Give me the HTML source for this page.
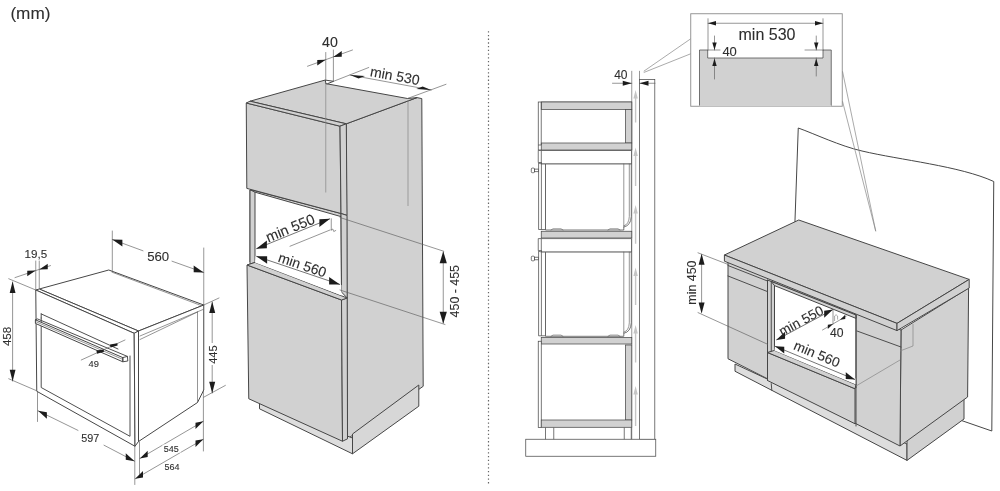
<!DOCTYPE html>
<html><head><meta charset="utf-8"><title>Installation dimensions (mm)</title>
<style>
html,body{margin:0;padding:0;background:#fff;}
body{width:1000px;height:491px;overflow:hidden;font-family:"Liberation Sans",sans-serif;}
svg{display:block;position:absolute;left:0;top:0;filter:grayscale(1);}
.o{fill:none;stroke:#464646;stroke-width:0.95;stroke-linejoin:round;stroke-linecap:round;}
.t{fill:none;stroke:#5c5c5c;stroke-width:0.65;stroke-linecap:round;}
.h{fill:none;stroke:#858585;stroke-width:0.7;}
.g{fill:#d0d1d3;stroke:#464646;stroke-width:1;stroke-linejoin:round;}
.gl{fill:#dcddde;stroke:#464646;stroke-width:1;stroke-linejoin:round;}
.gm{fill:#d6d7d9;stroke:#464646;stroke-width:1;stroke-linejoin:round;}
.gn{fill:#d0d1d3;stroke:none;}
.w{fill:#fff;stroke:#464646;stroke-width:1;stroke-linejoin:round;}
.s{fill:none;stroke:#4a4a4a;stroke-width:0.75;}
.ws{fill:#fff;stroke:#4a4a4a;stroke-width:0.75;}
.gs{fill:#d0d1d3;stroke:#4a4a4a;stroke-width:0.75;}
.d{fill:none;stroke:#3a3a3a;stroke-width:0.7;}
.wn{fill:#fff;stroke:none;}
.a{fill:#1c1c1c;stroke:none;}
.ag{fill:#c4c5c7;stroke:none;}
.tx{font-family:"Liberation Sans",sans-serif;fill:#2e2e2e;stroke:#2e2e2e;stroke-width:0.1px;}
</style></head><body>
<svg width="1000" height="491" viewBox="0 0 1000 491">
<text class="tx" x="10.4" y="18.6" font-size="17.2" text-anchor="start">(mm)</text>
<line x1="488.5" y1="31.15" x2="488.5" y2="483.6" stroke="#666" stroke-width="1.2" stroke-dasharray="1.3 2.427"/>
<path class="w" d="M39.25,289 L108.75,270 L203.75,305 L138.5,331 Z"/>
<line class="t" x1="112" y1="272.2" x2="200.5" y2="305.3"/>
<path class="w" d="M35.75,290 L39.25,289 L138.5,331 L134.2,333.3 Z"/>
<path class="w" d="M35.75,290 L134.2,333.3 L135,446.25 L36.75,391.25 Z"/>
<path class="w" d="M134.2,333.3 L138.5,331 L138.5,441.5 L135,446.25 Z"/>
<path class="w" d="M138.5,331 L203.75,305 L203.75,390 L197.5,402.5 L138.5,441.5 Z"/>
<line class="t" x1="197.5" y1="312" x2="197.5" y2="402.5"/>
<line class="t" x1="140" y1="339.5" x2="197.5" y2="312"/>
<line class="t" x1="140" y1="336" x2="203" y2="309.5"/>
<path class="o" d="M41.2,318 L41.2,387.5 L130,436.3 L130,356"/>
<line class="o" x1="41.2" y1="313.9" x2="118" y2="349"/>
<line class="o" x1="41.2" y1="313.9" x2="41.2" y2="318"/>
<path class="w" d="M35.4,319.8 L122.8,357.6 L122.8,361.8 L35.4,323.4 Z"/>
<line class="t" x1="35.6" y1="321.6" x2="122.8" y2="359.4"/>
<path class="o" d="M35.4,319.8 L37.4,318.9 L127.4,356.4 L127.8,361 L122.8,361.8 L122.8,357.6"/>
<line class="o" x1="122.8" y1="357.6" x2="127.4" y2="356.4"/>
<line class="t" x1="35.75" y1="261" x2="35.75" y2="289"/>
<line class="t" x1="39.25" y1="261" x2="39.25" y2="288"/>
<line class="t" x1="15" y1="277.6" x2="50.5" y2="265.6"/>
<path class="a" d="M35.75,270.60 L27.22,276.18 L27.22,270.78 Z"/>
<path class="a" d="M39.25,269.40 L47.78,269.22 L47.78,263.82 Z"/>
<text class="tx" x="24.6" y="257.8" font-size="11.6" text-anchor="start">19,5</text>
<line class="t" x1="8.75" y1="278.75" x2="35.75" y2="290"/>
<line class="t" x1="8.75" y1="378.75" x2="36" y2="390.5"/>
<line class="t" x1="12.6" y1="282" x2="12.6" y2="381"/>
<path class="a" d="M12.60,281.50 L15.50,293.10 L9.70,293.10 Z"/>
<path class="a" d="M12.60,381.30 L9.70,369.70 L15.50,369.70 Z"/>
<text class="tx" x="11.3" y="336.4" font-size="11.6" text-anchor="middle" transform="rotate(-90 11.3 336.4)">458</text>
<line class="t" x1="112.3" y1="231" x2="112.3" y2="270.5"/>
<line class="t" x1="203.75" y1="248" x2="203.75" y2="305"/>
<line class="t" x1="112.3" y1="239.5" x2="143" y2="250.8"/>
<line class="t" x1="172" y1="261.2" x2="203.75" y2="272.5"/>
<path class="a" d="M112.30,239.50 L122.36,246.43 L122.36,239.83 Z"/>
<path class="a" d="M203.75,272.50 L193.68,272.19 L193.68,265.59 Z"/>
<text class="tx" x="147.2" y="261.2" font-size="13.2" text-anchor="start">560</text>
<line class="t" x1="203.75" y1="305" x2="219" y2="298"/>
<line class="t" x1="203.75" y1="397.2" x2="225.4" y2="385.4"/>
<line class="t" x1="212.2" y1="302" x2="212.2" y2="393"/>
<path class="a" d="M212.20,301.40 L215.20,313.00 L209.20,313.00 Z"/>
<path class="a" d="M212.20,393.30 L209.20,381.70 L215.20,381.70 Z"/>
<rect x="208" y="343" width="10" height="22" fill="#fff"/>
<text class="tx" x="216.8" y="354.6" font-size="11" text-anchor="middle" transform="rotate(-90 216.8 354.6)">445</text>
<line class="t" x1="37.5" y1="391.5" x2="37.5" y2="421.5"/>
<line class="t" x1="134.8" y1="446.5" x2="134.8" y2="484.5"/>
<line class="t" x1="38" y1="410.8" x2="78" y2="430.4"/>
<line class="t" x1="104" y1="445.2" x2="134.6" y2="461.2"/>
<path class="a" d="M38.00,410.80 L46.87,418.73 L46.87,412.13 Z"/>
<path class="a" d="M134.60,461.20 L125.73,459.87 L125.73,453.27 Z"/>
<text class="tx" x="81.2" y="442.3" font-size="10.8" text-anchor="start">597</text>
<line class="t" x1="139.5" y1="441.8" x2="139.5" y2="474.5"/>
<line class="t" x1="203.4" y1="390" x2="203.4" y2="451"/>
<line class="t" x1="139.9" y1="458.4" x2="203.3" y2="421.3"/>
<path class="a" d="M139.90,458.40 L147.67,457.05 L147.67,450.65 Z"/>
<path class="a" d="M203.30,421.30 L195.53,429.05 L195.53,422.65 Z"/>
<line class="t" x1="135.2" y1="478.8" x2="203.3" y2="439.3"/>
<path class="a" d="M135.20,478.80 L142.99,477.48 L142.99,471.08 Z"/>
<path class="a" d="M203.30,439.30 L195.51,447.02 L195.51,440.62 Z"/>
<rect x="162.5" y="444.5" width="18.5" height="8" fill="#fff"/>
<text class="tx" x="163.8" y="452" font-size="9" text-anchor="start">545</text>
<text class="tx" x="164.4" y="469.6" font-size="9" text-anchor="start">564</text>
<line class="t" x1="81.25" y1="360" x2="125" y2="340"/>
<path class="a" d="M96.4,350.6 L103.6,349.4 L104,351.8 L97,353.8 Z"/>
<path class="a" d="M110,344.4 L117.4,343.2 L117.6,345.6 L110.6,347.4 Z"/>
<text class="tx" x="88.6" y="367" font-size="9.3" text-anchor="start">49</text>
<path class="g" d="M346.3,123.8 L417,97.6 L421.8,98.6 L423.2,386.3 L347.5,438.8 Z"/>
<path class="g" d="M250,101.2 L325.3,80 L325.7,83.6 L407.5,98.5 L417,97.6 L346.3,123.8 Z"/>
<path class="w" d="M325.4,80.1 L333.6,81.3 L327.2,83.8 L325.7,83.6 Z"/>
<path class="gl" d="M259.5,403 L259.5,408.8 L352.5,453.8 L352.5,438 Z"/>
<path class="gm" d="M352.5,434 L352.5,453.8 L418.8,406.2 L418.8,385 Z"/>
<path class="w" d="M250,190 L341,213.5 L341.5,292 L250,262 Z"/>
<path class="g" d="M250,190 L255,191.3 L255,262.5 L250,264 Z"/>
<path class="g" d="M250,189.5 L341,213.5 L341,216.6 L255,192.2 Z"/>
<path class="g" d="M246.25,103 L340,126.2 L341,213.5 L246.8,188.4 Z"/>
<path class="g" d="M246.25,103 L250,101.2 L346.3,123.8 L340,126.2 Z"/>
<path class="g" d="M340,126.2 L346.3,123.8 L347,215.4 L341,213.5 Z"/>
<path class="g" d="M341,213.5 L347,215.4 L347.2,298 L341.5,292 Z"/>
<path class="g" d="M247,265 L341.5,300 L342.5,441.25 L248.75,398.75 Z"/>
<path class="g" d="M341.5,300 L347.2,298 L347.5,438.8 L342.5,441.25 Z"/>
<path class="g" d="M247,265 L255,262.4 L347.2,298 L341.5,300 Z"/>
<path class="wn" d="M255,262.4 L255.6,256 L341.4,285 L341.5,295.4 Z"/>
<line class="h" x1="325.75" y1="82" x2="325.75" y2="192.5"/>
<line class="h" x1="408" y1="100" x2="408" y2="206"/>
<line class="t" x1="325.75" y1="52.5" x2="325.75" y2="80"/>
<line class="t" x1="333.4" y1="50" x2="333.4" y2="81"/>
<line class="t" x1="307.5" y1="66.25" x2="352.5" y2="50"/>
<path class="a" d="M325.75,59.70 L317.28,65.54 L317.28,59.94 Z"/>
<path class="a" d="M333.25,56.90 L341.72,56.66 L341.72,51.06 Z"/>
<text class="tx" x="322" y="47" font-size="14.2" text-anchor="start">40</text>
<line class="t" x1="333.6" y1="81.3" x2="368.75" y2="67.5"/>
<line class="t" x1="407.5" y1="98.5" x2="446" y2="84.3"/>
<line class="t" x1="350" y1="75" x2="431.25" y2="90"/>
<path class="a" d="M350.00,75.00 L364.98,75.97 L358.62,78.39 Z"/>
<path class="a" d="M431.25,90.00 L422.63,86.61 L416.27,89.03 Z"/>
<text class="tx" x="369.6" y="76" font-size="14" text-anchor="start" transform="rotate(10.5 369.6 76)">min 530</text>
<line class="d" x1="256.25" y1="248.75" x2="330" y2="218.75"/>
<path class="a" d="M256.25,248.75 L266.90,248.22 L266.90,240.62 Z"/>
<path class="a" d="M330.00,218.75 L319.35,226.88 L319.35,219.28 Z"/>
<text class="tx" x="268.2" y="242.4" font-size="14.5" text-anchor="start" transform="rotate(-22.1 268.2 242.4)">min 550</text>
<line class="t" x1="290" y1="246.25" x2="330" y2="230"/>
<line class="t" x1="331.25" y1="218.75" x2="331.25" y2="230"/>
<path class="t" d="M331.25,230 l1.5,-1 l1,2.5 l2,-1"/>
<line class="d" x1="256.25" y1="256.25" x2="340" y2="284.5"/>
<path class="a" d="M256.25,256.25 L267.15,263.73 L267.15,256.13 Z"/>
<path class="a" d="M340.00,284.50 L329.10,284.62 L329.10,277.02 Z"/>
<text class="tx" x="277.2" y="261.6" font-size="14" text-anchor="start" transform="rotate(18.6 277.2 261.6)">min 560</text>
<line class="t" x1="340" y1="217.5" x2="443.75" y2="251.25"/>
<line class="t" x1="340" y1="290" x2="445" y2="324.5"/>
<line class="t" x1="443.25" y1="252" x2="443.25" y2="323"/>
<path class="a" d="M443.25,251.30 L446.85,263.30 L439.65,263.30 Z"/>
<path class="a" d="M443.25,323.80 L439.65,311.80 L446.85,311.80 Z"/>
<text class="tx" x="458.6" y="291.2" font-size="12.4" text-anchor="middle" transform="rotate(-90 458.6 291.2)">450 - 455</text>
<rect class="ws" x="639.5" y="79.5" width="15.3" height="360"/>
<line class="t" x1="631.75" y1="71.25" x2="631.75" y2="439.25"/>
<line class="t" x1="639.5" y1="71.25" x2="639.5" y2="80"/>
<rect class="ws" x="525.75" y="439.25" width="130" height="17"/>
<line class="s" x1="545.5" y1="427.5" x2="545.5" y2="439.25"/>
<line class="s" x1="553.75" y1="427.5" x2="553.75" y2="439.25"/>
<line class="s" x1="624.25" y1="427.5" x2="624.25" y2="439.25"/>
<line class="s" x1="631.25" y1="427.5" x2="631.25" y2="439.25"/>
<rect class="ws" x="538.25" y="102" width="93.5" height="48"/>
<rect class="gs" x="541.25" y="102" width="90.5" height="7.5"/>
<rect class="gs" x="625.5" y="109.5" width="6.25" height="33.5"/>
<rect class="gs" x="541.25" y="143" width="90.5" height="7"/>
<line class="s" x1="541.25" y1="102" x2="541.25" y2="145"/>
<line class="s" x1="538.25" y1="145" x2="541.25" y2="145"/>
<rect class="gs" x="541.25" y="231.25" width="90.5" height="6.75"/>
<rect class="gs" x="541.25" y="337.5" width="90.5" height="6.5"/>
<rect class="ws" x="538.25" y="341.25" width="3" height="86.25"/>
<rect class="gs" x="625.5" y="345" width="6.25" height="75"/>
<rect class="gs" x="541.25" y="420" width="90.5" height="7.3"/>
<path class="ws" d="M538.25,150.5 H631.5 V164.0 H541.5 V162.5 H538.25 Z"/>
<path class="s" d="M541.3,150.5 V164.0"/>
<path class="ws" d="M538.6,163.0 L541.5,164.0 L545.5,164.0 V229.5 H538.6 Z"/>
<path class="s" d="M541.4,164.0 V229.5"/>
<path class="ws" d="M545.5,164.0 H631.3 V216.5 Q630.8,225.5 623.8,227.0 V230.0 H545.5 Z"/>
<path class="t" d="M623.8,164.0 V227.0"/>
<path class="t" d="M629.3,164.0 V216.5 Q629,224.5 623.8,225.9"/>
<path class="t" d="M551,230.0 l2,-1.2 h8 l2,1.2 M608,230.0 l2,-1.2 h8 l2,1.2"/>
<rect class="ws" x="531.3" y="168.1" width="3.2" height="4.6" rx="1"/>
<rect class="ws" x="534.5" y="169.1" width="4" height="2.6"/>
<path class="ws" d="M538.25,238.6 H631.5 V252.1 H541.5 V250.6 H538.25 Z"/>
<path class="s" d="M541.3,238.6 V252.1"/>
<path class="ws" d="M538.6,251.1 L541.5,252.1 L545.5,252.1 V335.8 H538.6 Z"/>
<path class="s" d="M541.4,252.1 V335.8"/>
<path class="ws" d="M545.5,252.1 H631.3 V322.8 Q630.8,331.8 623.8,333.3 V336.3 H545.5 Z"/>
<path class="t" d="M623.8,252.1 V333.3"/>
<path class="t" d="M629.3,252.1 V322.8 Q629,330.8 623.8,332.2"/>
<path class="t" d="M551,336.3 l2,-1.2 h8 l2,1.2 M608,336.3 l2,-1.2 h8 l2,1.2"/>
<rect class="ws" x="531.3" y="256.2" width="3.2" height="4.6" rx="1"/>
<rect class="ws" x="534.5" y="257.2" width="4" height="2.6"/>
<path class="ag" d="M635.6,90 l2.2,8.5 h-1.5 V122.5 h-1.4 V98.5 h-1.5 Z"/>
<path class="ag" d="M635.6,147.5 l2.2,8.5 h-1.5 V186 h-1.4 V156.0 h-1.5 Z"/>
<path class="ag" d="M635.6,205 l2.2,8.5 h-1.5 V243.75 h-1.4 V213.5 h-1.5 Z"/>
<path class="ag" d="M635.6,267.5 l2.2,8.5 h-1.5 V305 h-1.4 V276.0 h-1.5 Z"/>
<path class="ag" d="M635.6,325 l2.2,8.5 h-1.5 V362.5 h-1.4 V333.5 h-1.5 Z"/>
<path class="ag" d="M635.6,386 l2.2,8.5 h-1.5 V426 h-1.4 V394.5 h-1.5 Z"/>
<line class="t" x1="612.5" y1="83.25" x2="631.75" y2="83.25"/>
<line class="t" x1="639.5" y1="83.25" x2="655" y2="83.25"/>
<path class="a" d="M631.75,83.25 L622.75,85.75 L622.75,80.75 Z"/>
<path class="a" d="M639.50,83.25 L648.50,80.75 L648.50,85.75 Z"/>
<text class="tx" x="614.2" y="78.8" font-size="12" text-anchor="start">40</text>
<line class="h" x1="643.75" y1="71.25" x2="690.75" y2="38.75"/>
<line class="h" x1="643.75" y1="72.5" x2="690.75" y2="53.75"/>
<rect x="690.75" y="13.75" width="151.5" height="92.5" fill="#fff" stroke="#8c8c8c" stroke-width="0.9"/>
<path class="gs" d="M699.5,105.8 V50 H707.7 V58 H823 V50 H831.25 V105.8" />
<path d="M699.5,105.8 H831.25" stroke="#d0d1d3" stroke-width="1.2"/>
<line class="t" x1="708" y1="18.75" x2="708" y2="50"/>
<line class="t" x1="823" y1="18.75" x2="823" y2="50"/>
<line class="t" x1="708" y1="23.25" x2="823" y2="23.25"/>
<path class="a" d="M708.00,23.25 L716.00,21.05 L716.00,25.45 Z"/>
<path class="a" d="M823.00,23.25 L815.00,25.45 L815.00,21.05 Z"/>
<text class="tx" x="767" y="40" font-size="16" text-anchor="middle">min 530</text>
<line class="t" x1="707.7" y1="50" x2="720" y2="50"/>
<line class="t" x1="805" y1="50" x2="823" y2="50"/>
<line class="t" x1="714.5" y1="36" x2="714.5" y2="50"/>
<line class="t" x1="714.5" y1="58" x2="714.5" y2="79"/>
<path class="a" d="M714.50,50.00 L712.30,42.50 L716.70,42.50 Z"/>
<path class="a" d="M714.50,58.40 L716.70,65.90 L712.30,65.90 Z"/>
<line class="t" x1="816.25" y1="36" x2="816.25" y2="50"/>
<line class="t" x1="816.25" y1="58" x2="816.25" y2="76"/>
<path class="a" d="M816.25,50.00 L814.05,42.50 L818.45,42.50 Z"/>
<path class="a" d="M816.25,58.40 L818.45,65.90 L814.05,65.90 Z"/>
<text class="tx" x="722.4" y="55.6" font-size="13" text-anchor="start">40</text>
<path class="w" d="M798.25,128 C815,134 840,146 862,151 C900,160 960,166 993.75,181.5 L991.8,431 L960,420 L795,330 L795,220 Z"/>
<path class="gl" d="M735,364 L735,371.25 L907,460.4 L907,444 Z"/>
<path class="g" d="M907,440 L907,460.4 L964,419 L964,392 Z"/>
<path class="g" d="M901,330 L968.6,288 L967.6,397 L900,446 Z"/>
<path class="g" d="M728,261.5 L901,330 L900,446 L728,358.75 Z"/>
<path class="w" d="M771.25,281.5 L856,315 L856,388 L771.25,352.5 Z"/>
<path class="g" d="M767.5,280 L774.5,282.8 L774.5,352 L767.5,352.5 Z"/>
<line class="o" x1="771.25" y1="281.5" x2="771.25" y2="352.5"/>
<path class="g" d="M771.25,281.5 L856,315 L856,318.4 L774.5,285.6 Z"/>
<path class="g" d="M767.5,352.5 L855,388.75 L855,423.75 L767.5,380.5 Z"/>
<path class="g" d="M767.5,352.5 L774.5,350.4 L856,384.6 L855,388.75 Z"/>
<path class="wn" d="M774.5,350.4 L775,345 L856,378.6 L856,384.6 Z"/>
<line class="o" x1="771.25" y1="383.6" x2="771.8" y2="390.2"/>
<line class="o" x1="728" y1="265.5" x2="767.5" y2="281"/>
<line class="o" x1="728" y1="276" x2="767.5" y2="291.6"/>
<line class="o" x1="767.5" y1="280" x2="767.5" y2="380.5"/>
<line class="o" x1="856" y1="315" x2="856" y2="426"/>
<line class="o" x1="857" y1="331" x2="901" y2="347"/>
<line class="h" x1="856" y1="386" x2="900" y2="360"/>
<line class="h" x1="913" y1="324" x2="913" y2="346"/>
<line class="h" x1="900" y1="351" x2="913" y2="346"/>
<path class="g" d="M724.4,255 L798.75,220 L969.2,279.4 L897,323.4 Z"/>
<path class="g" d="M724.4,255 L897,323.4 L897,330.6 L724.4,261.2 Z"/>
<path class="g" d="M897,323.4 L969.2,279.4 L969.2,288 L897,330.6 Z"/>
<line class="t" x1="698" y1="252.8" x2="728" y2="264.4"/>
<line class="t" x1="698" y1="312.6" x2="767.5" y2="344.2"/>
<line class="t" x1="701.6" y1="255" x2="701.6" y2="312"/>
<path class="a" d="M701.60,253.80 L704.60,264.80 L698.60,264.80 Z"/>
<path class="a" d="M701.60,313.40 L698.60,302.40 L704.60,302.40 Z"/>
<text class="tx" x="696" y="282.6" font-size="12.4" text-anchor="middle" transform="rotate(-90 696 282.6)">min 450</text>
<line class="d" x1="776.25" y1="340" x2="833" y2="309.5"/>
<path class="a" d="M776.25,340.00 L785.06,338.67 L785.06,331.87 Z"/>
<path class="a" d="M833.00,309.50 L824.19,317.63 L824.19,310.83 Z"/>
<text class="tx" x="782" y="336.3" font-size="13.6" text-anchor="start" transform="rotate(-28.2 782 336.3)">min 550</text>
<line class="t" x1="822.5" y1="330" x2="846.25" y2="316.25"/>
<line class="t" x1="833" y1="309.5" x2="833" y2="324"/>
<path class="a" d="M833.00,323.90 L827.81,329.11 L827.81,324.71 Z"/>
<path class="a" d="M840.00,319.80 L845.22,319.04 L845.22,314.64 Z"/>
<path class="h" d="M834.6,321 v-5 q1.4,-2.6 3,0 v3.6"/>
<text class="tx" x="830" y="336.6" font-size="12.2" text-anchor="start">40</text>
<line class="d" x1="775" y1="346.25" x2="855" y2="379.5"/>
<path class="a" d="M775.00,346.25 L784.23,353.49 L784.23,346.69 Z"/>
<path class="a" d="M855.00,379.50 L845.77,379.06 L845.77,372.26 Z"/>
<text class="tx" x="792.8" y="349" font-size="13.6" text-anchor="start" transform="rotate(22.6 792.8 349)">min 560</text>
<line class="h" x1="842.5" y1="71.25" x2="875.75" y2="231.25"/>
<line class="h" x1="842.5" y1="101.25" x2="875.75" y2="231.25"/>
</svg>
</body></html>
